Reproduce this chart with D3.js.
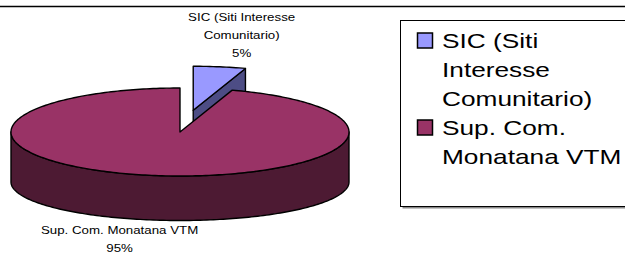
<!DOCTYPE html>
<html>
<head>
<meta charset="utf-8">
<script src="https://cdn.jsdelivr.net/npm/d3@7"></script>
<style>
  body { margin: 0; background: #fff; }
  text { font-family: "Liberation Sans", Arial, sans-serif; fill: #000; }
</style>
</head>
<body>
<svg id="chart" width="625" height="257"></svg>
<script>
// chart data
const categories = ["SIC (Siti Interesse Comunitario)", "Sup. Com. Monatana VTM"];
const values = [5, 95];
const dataLabelLines = [["SIC (Siti Interesse", "Comunitario)"], ["Sup. Com. Monatana VTM"]];
const legendLines = [["SIC (Siti", "Interesse", "Comunitario)"], ["Sup. Com.", "Monatana VTM"]];

const topColors = ["#9999FF", "#993366"];
const sideColors = ["#4D4D85", "#4D1A33"];
const explode = [0.5, 0];

const svg = d3.select("#chart");

// frame line at the top
svg.append("line")
    .attr("x1", 0).attr("x2", 625)
    .attr("y1", 6.5).attr("y2", 6.5)
    .attr("stroke", "#000")
    .attr("stroke-width", 1.5);

// pie geometry (3D ellipse)
const cx = 180, cy = 132, rx = 169, ry = 44, depth = 50, ryBottom = 38.5;

const pie = d3.pie().sort(null).value(d => d)(values);
const line = d3.line();
const total = d3.sum(values);
const pct = d3.format(".0%");

function pt(a, ox, oy, bottom) {
    return bottom
        ? [ox + rx * Math.sin(a), oy + depth - ryBottom * Math.cos(a)]
        : [ox + rx * Math.sin(a), oy - ry * Math.cos(a)];
}

function arcPts(a0, a1, ox, oy, bottom) {
    const n = Math.max(2, Math.ceil(Math.abs(a1 - a0) / 0.02));
    return d3.range(n + 1).map(i => pt(a0 + (a1 - a0) * i / n, ox, oy, bottom));
}

const slices = pie.map((p, i) => {
    const mid = (p.startAngle + p.endAngle) / 2;
    return {
        p, i, mid,
        ox: cx + explode[i] * rx * Math.sin(mid),
        oy: cy - explode[i] * ry * Math.cos(mid)
    };
});

const pieG = svg.append("g")
    .attr("stroke", "#000")
    .attr("stroke-width", 1.4)
    .attr("stroke-linejoin", "round");

// back slices first
slices.slice().sort((a, b) => a.oy - b.oy).forEach(s => {
    const a0 = s.p.startAngle, a1 = s.p.endAngle;

    // cut faces that turn toward the viewer
    const cuts = [];
    if (Math.sin(a0) < -1e-6) cuts.push(a0);
    if (Math.sin(a1) > 1e-6) cuts.push(a1);
    cuts.forEach(a => {
        pieG.append("path")
            .attr("fill", sideColors[s.i])
            .attr("d", line([[s.ox, s.oy], pt(a, s.ox, s.oy, false), pt(a, s.ox, s.oy, true), [s.ox, s.oy + depth]]) + "Z");
    });

    // outer wall, front half only
    const w0 = Math.max(a0, Math.PI / 2), w1 = Math.min(a1, 3 * Math.PI / 2);
    if (w1 > w0) {
        const pts = arcPts(w0, w1, s.ox, s.oy, false).concat(arcPts(w1, w0, s.ox, s.oy, true));
        pieG.append("path")
            .attr("fill", sideColors[s.i])
            .attr("d", line(pts) + "Z");
    }

    // top face
    pieG.append("path")
        .attr("fill", topColors[s.i])
        .attr("d", line([[s.ox, s.oy]].concat(arcPts(a0, a1, s.ox, s.oy, false))) + "Z");
});

// data labels
const labelOffset = [[22, -46], [-34, 14]];
const labelStretch = 1.21;
slices.forEach(s => {
    const base = pt(s.mid, s.ox, s.oy, s.mid > Math.PI / 2 && s.mid < 3 * Math.PI / 2);
    const lines = dataLabelLines[s.i].concat([pct(values[s.i] / total)]);
    const lx = base[0] + labelOffset[s.i][0];
    const ly = base[1] + labelOffset[s.i][1];
    lines.forEach((t, k) => {
        svg.append("text")
            .attr("transform", `translate(${lx},${ly + k * 18}) scale(${labelStretch},1)`)
            .attr("text-anchor", "middle")
            .style("font-size", "11px")
            .text(t);
    });
});

// legend
const lg = svg.append("g").attr("transform", "translate(400.5,20.5)");
lg.append("rect")
    .attr("x", 2).attr("y", 2)
    .attr("width", 240).attr("height", 186)
    .attr("fill", "#888");
lg.append("rect")
    .attr("width", 240).attr("height", 186)
    .attr("fill", "#fff")
    .attr("stroke", "#000")
    .attr("stroke-width", 1);

const lineH = 29;
let row = 0;
legendLines.forEach((lines, i) => {
    const y0 = 27.5 + row * lineH;
    lg.append("rect")
        .attr("x", 17).attr("y", y0 - 15)
        .attr("width", 15).attr("height", 15)
        .attr("fill", topColors[i])
        .attr("stroke", "#000")
        .attr("stroke-width", 1.5);
    lines.forEach((t, k) => {
        lg.append("text")
            .attr("transform", `translate(41.5,${y0 + k * lineH}) scale(1.25,1)`)
            .style("font-size", "21px")
            .text(t);
    });
    row += lines.length;
});
</script>
</body>
</html>
